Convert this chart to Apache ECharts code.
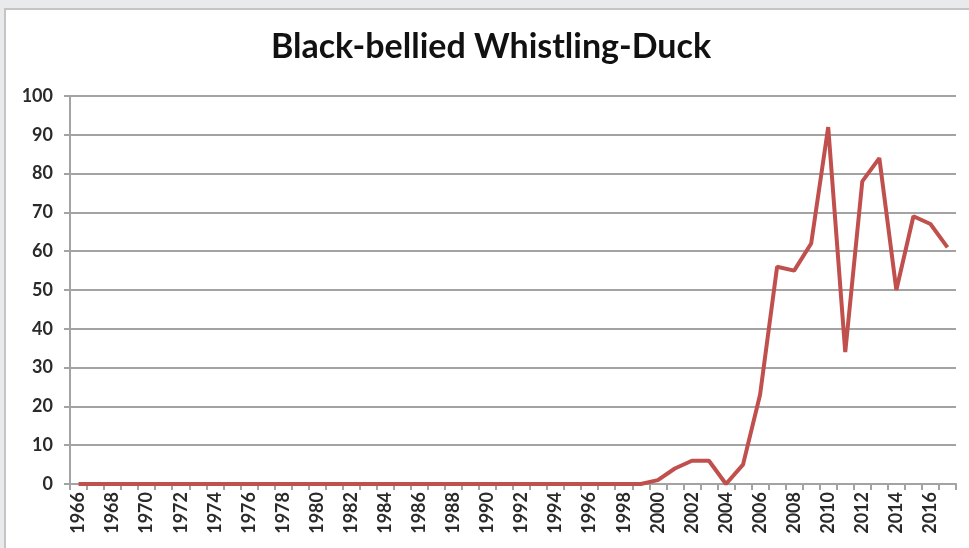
<!DOCTYPE html>
<html>
<head>
<meta charset="utf-8">
<script src="https://cdn.jsdelivr.net/npm/echarts@6/dist/echarts.min.js"></script>
<style>
  html, body { margin: 0; padding: 0; background: #e9eaec; }
  #panel { position: absolute; left: 4px; top: 8px; width: 965px; height: 540px;
           background: #ffffff; border-left: 2px solid #c4c4c4; border-top: 2px solid #c4c4c4; }
  #chart { position: absolute; left: 0; top: 0; width: 969px; height: 548px; }
</style>
</head>
<body>
<div id="panel"></div>
<div id="chart"></div>
<script>
// Survey years, one category per year
const years = [];
for (let y = 1966; y <= 2017; y++) years.push(String(y));

// Birds counted per year (1966–2017)
const counts = [
  0, 0, 0, 0, 0, 0, 0, 0, 0, 0,   // 1966–1975
  0, 0, 0, 0, 0, 0, 0, 0, 0, 0,   // 1976–1985
  0, 0, 0, 0, 0, 0, 0, 0, 0, 0,   // 1986–1995
  0, 0, 0, 0,                     // 1996–1999
  1, 4, 6, 6, 0, 5, 23, 56, 55, 62, // 2000–2009
  92, 34, 78, 84, 50, 69, 67, 61  // 2010–2017
];

const yTicks = { min: 0, max: 100, step: 10 };

const chart = echarts.init(document.getElementById('chart'), null, { renderer: 'canvas' });
const labelFont = 'Lato, "Open Sans", sans-serif';

chart.setOption({
  backgroundColor: 'transparent',
  animation: false,
  title: {
    text: 'Black-bellied Whistling-Duck',
    left: 486,
    top: 25,
    textAlign: 'center',
    textStyle: { fontFamily: labelFont, fontWeight: 'bold', fontSize: 34, color: '#111111' }
  },
  grid: { left: 70, right: 13, top: 96, bottom: 64, containLabel: false },
  xAxis: {
    type: 'category',
    data: years,
    boundaryGap: true,
    axisLine: { lineStyle: { color: '#a3a3a3', width: 2 } },
    axisTick: { show: true, interval: 0, length: 6, lineStyle: { color: '#a3a3a3', width: 2 } },
    axisLabel: {
      interval: 1, rotate: 90, margin: 8,
      fontFamily: labelFont, fontSize: 18, fontWeight: 'bold', color: '#2a2a2a'
    },
    splitLine: { show: false }
  },
  yAxis: {
    type: 'value',
    min: yTicks.min, max: yTicks.max, interval: yTicks.step,
    axisLine: { show: true, lineStyle: { color: '#a3a3a3', width: 2 } },
    axisTick: { show: true, length: 6, lineStyle: { color: '#a3a3a3', width: 2 } },
    axisLabel: { margin: 17, fontFamily: labelFont, fontSize: 18, fontWeight: 'bold', color: '#2a2a2a' },
    splitLine: { show: true, lineStyle: { color: '#a3a3a3', width: 2 } }
  },
  series: [{
    type: 'line',
    data: counts,
    symbol: 'none',
    lineStyle: { color: '#c0504d', width: 4 },
    itemStyle: { color: '#c0504d' }
  }]
});
</script>
</body>
</html>
